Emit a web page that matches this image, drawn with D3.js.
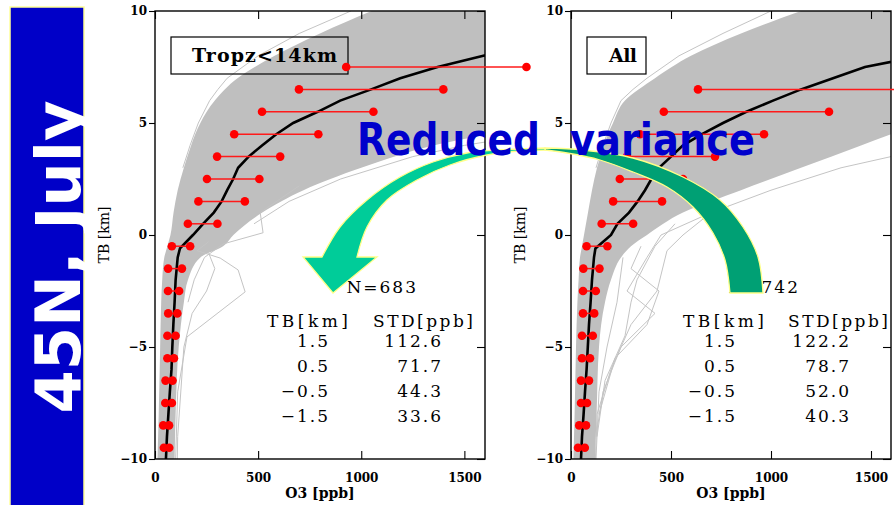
<!DOCTYPE html>
<html>
<head>
<meta charset="utf-8">
<script src="https://cdn.jsdelivr.net/npm/d3@7"></script>
<style>
  body { margin: 0; background: #fff; }
  svg { display: block; }
</style>
</head>
<body>
<svg id="chart" width="894" height="505"></svg>
<script>
// ---- Ozone profiles relative to the thermal tropopause (TB = height above/below it) ----

// Envelope of the individual sonde profiles (ppb) at these TB levels (km)
const bandKm  = [-10, -8, -5, -3, -2, -1, -0.5, 0, 1, 2, 3, 4, 4.5, 5, 6, 7, 8, 9, 10];
const tropLo  = [12, 18, 25, 30, 35, 45, 60, 75, 90, 110, 140, 175, 195, 220, 290, 400, 580, 800, 1050];
const tropHi  = [95, 100, 115, 140, 160, 220, 330, 380, 520, 720, 1000, 1350, 1600, 1750, 1800, 1800, 1800, 1800, 1800];
const allLo   = [12, 18, 25, 32, 38, 45, 55, 65, 85, 105, 130, 165, 185, 210, 270, 420, 600, 850, 1150];
const allHi   = [120, 128, 140, 170, 200, 250, 300, 380, 560, 850, 1150, 1450, 1600, 1750, 1800, 1800, 1800, 1800, 1800];

// Individual profiles lying outside the dense envelope ([TB km, O3 ppb])
const tropStray = [
  [[-0.3, 260], [-0.7, 204], [-1.03, 316], [-1.56, 403], [-2.54, 437], [-4.55, 155], [-7, 110], [-10, 100]],
  [[2.2, 700], [1.0, 510], [0.1, 524], [-0.4, 330], [-1, 240], [-2, 190], [-3, 160]],
  [[-0.8, 260], [-1.5, 290], [-2.5, 250], [-3.5, 180], [-5, 140], [-9, 110], [-10, 108]],
  [[10, 950], [9, 700], [8, 500], [7, 350], [6.5, 305], [6, 265], [5, 210], [4, 170], [3, 135]],
  [[0.5, 480], [1.5, 650], [2.5, 900], [3.5, 1250], [4, 1500], [4.3, 1700]]
];
const allStray = [
  [[1, 700], [0, 560], [-0.7, 480], [-2.5, 430], [-4, 300], [-6, 200], [-8, 130], [-10, 122]],
  [[0, 450], [-1, 380], [-2.5, 280], [-3.5, 420], [-5, 250], [-7, 160], [-9, 125]],
  [[-0.5, 350], [-1.5, 300], [-2.5, 440], [-4, 380], [-5.5, 220], [-8, 140]],
  [[-1, 260], [-3, 230], [-5, 180], [-7, 140], [-10, 125]],
  [[0.5, 520], [-0.5, 420], [-2, 330], [-3, 300], [-4.5, 270], [-6.5, 170], [-9, 130]],
  [[10, 1000], [9, 760], [8, 540], [7, 380], [6.5, 310], [6, 250], [5, 200], [4, 160], [3, 125]],
  [[0, 450], [1, 700], [2, 1000], [3, 1350], [3.5, 1600], [3.8, 1700]]
];

// Mean profile (ppb)
const meanKm   = [-10, -9, -8, -7, -6, -5, -4, -3, -2, -1, -0.6, 0, 0.5, 1, 1.5, 2, 2.5, 3, 3.5, 4, 4.5, 5, 5.5, 6, 6.5, 7, 7.5, 8, 8.5];
const tropMean = [53, 58, 65, 72, 80, 84, 89, 95, 100, 110, 121, 184, 233, 285, 323, 350, 379, 403, 454, 519, 588, 670, 789, 898, 1048, 1189, 1370, 1592, 1800];
const allMean  = [50, 55, 63, 70, 78, 84, 90, 98, 105, 115, 122, 200, 232, 290, 333, 370, 402, 440, 500, 560, 655, 760, 877, 1010, 1150, 1310, 1470, 1750, 1800];

// Table: standard deviation near the tropopause
const tbLevels = [1.5, 0.5, -0.5, -1.5];
const stdTrop  = [112.6, 71.7, 44.3, 33.6];
const stdAll   = [122.2, 78.7, 52.0, 40.3];
const nTrop = 683, nAll = 742;

// Layer means and standard deviations (mean ± 1σ bars)
const tropUpKm   = [7.5, 6.5, 5.5, 4.5, 3.5, 2.5];
const tropUpMean = [1364, 1048, 789, 588, 454, 379];
const tropUpStd  = [437, 350, 270, 204, 153, 127];
const tropTbMean = [323, 231, 126, 97];
const tropLowKm   = [-2.5, -3.5, -4.5, -5.5, -6.5, -7.5, -8.5, -9.5];
const tropLowMean = [90, 86, 80, 76, 68, 66, 54, 56];
const tropLowStd  = [27, 22, 20, 16, 17, 16, 14, 13];

const allUpKm   = [6.5, 5.5, 4.5, 3.5, 2.5];
const allUpMean = [1150, 877, 655, 500, 402];
const allUpStd  = [515, 413, 310, 220, 158];
const allTbMean = [333, 232, 130, 102];
const allLowKm   = [-2.5, -3.5, -4.5, -5.5, -6.5, -7.5, -8.5, -9.5];
const allLowMean = [92, 88, 82, 75, 70, 65, 58, 52];
const allLowStd  = [32, 28, 27, 20, 20, 15, 17, 17];

// Axis ticks
const xTicks = [0, 500, 1000, 1500];
const yTicks = [-10, -5, 0, 5, 10];

const svg = d3.select("#chart");
const fmt = d3.format("d");
const serif = "'DejaVu Serif', 'Liberation Serif', serif";

function bars(km, mean, std) { return km.map((k, i) => ({ km: k, mean: mean[i], std: std[i] })); }

const panels = [
  {
    id: "trop", x0: 155, x1: 485, title: "Tropz<14km", box: [171, 37, 177, 37], titleX: 192, titleLen: 145,
    lo: tropLo, hi: tropHi, stray: tropStray, mean: tropMean, n: nTrop, std: stdTrop,
    bars: [].concat(bars(tropUpKm, tropUpMean, tropUpStd), bars(tbLevels, tropTbMean, stdTrop), bars(tropLowKm, tropLowMean, tropLowStd)),
    nEnd: 418, tbStart: 267, tbRight: 330, stdStart: 373, stdRight: 443
  },
  {
    id: "all", x0: 571, x1: 891, title: "All", box: [587, 37, 59, 37], titleX: 609, titleLen: 28,
    lo: allLo, hi: allHi, stray: allStray, mean: allMean, n: nAll, std: stdAll,
    bars: [].concat(bars(allUpKm, allUpMean, allUpStd), bars(tbLevels, allTbMean, stdAll), bars(allLowKm, allLowMean, allLowStd)),
    nEnd: 800, tbStart: 683, tbRight: 737, stdStart: 788, stdRight: 851
  }
];

const yTop = 11, yBot = 459;
const y = d3.scaleLinear().domain([-10, 10]).range([yBot, yTop]);

panels.forEach(p => {
  const x = d3.scaleLinear().domain([0, 1600]).range([p.x0, p.x1]);
  const g = svg.append("g");

  g.append("clipPath").attr("id", "clip-" + p.id)
    .append("rect").attr("x", p.x0).attr("y", yTop).attr("width", p.x1 - p.x0).attr("height", yBot - yTop);
  const plot = g.append("g").attr("clip-path", `url(#clip-${p.id})`);

  // dense envelope of all profiles
  const area = d3.area().y((d, i) => y(bandKm[i])).x0((d, i) => x(p.lo[i])).x1((d, i) => x(p.hi[i]))
    .curve(d3.curveMonotoneY);
  plot.append("path").datum(bandKm).attr("d", area).attr("fill", "#bfbfbf");

  // outlying profiles
  const pl = d3.line().x(d => x(d[1])).y(d => y(d[0]));
  plot.selectAll("path.stray").data(p.stray).join("path").attr("class", "stray")
    .attr("d", pl).attr("fill", "none").attr("stroke", "#c4c4c4").attr("stroke-width", 1);

  // mean profile
  const ml = d3.line().x((d, i) => x(p.mean[i])).y((d) => y(d));
  plot.append("path").datum(meanKm).attr("d", ml).attr("fill", "none")
    .attr("stroke", "#000").attr("stroke-width", 2.6);

  // frame
  g.append("rect").attr("x", p.x0).attr("y", yTop).attr("width", p.x1 - p.x0).attr("height", yBot - yTop)
    .attr("fill", "none").attr("stroke", "#000").attr("stroke-width", 1.4);

  // axes
  const axL = g.append("g").attr("transform", `translate(${p.x0},0)`)
    .call(d3.axisLeft(y).tickValues(yTicks).tickFormat(fmt).tickSize(6).tickPadding(2));
  const axR = g.append("g").attr("transform", `translate(${p.x1},0)`)
    .call(d3.axisRight(y).tickValues(yTicks).tickFormat("").tickSize(-8));
  const axT = g.append("g").attr("transform", `translate(0,${yTop})`)
    .call(d3.axisTop(x).tickValues(xTicks).tickFormat("").tickSize(-8));
  const axB = g.append("g").attr("transform", `translate(0,${yBot})`)
    .call(d3.axisBottom(x).tickValues(xTicks).tickFormat(fmt).tickSize(-8).tickPadding(14));
  [axL, axR, axT, axB].forEach(a => {
    a.select(".domain").remove();
    a.selectAll("line").attr("stroke", "#000").attr("stroke-width", 1.1);
    a.selectAll("text").attr("font-family", serif).attr("font-weight", "bold")
      .attr("font-size", 12).attr("fill", "#000");
  });

  // axis titles
  g.append("text").attr("transform", `translate(${p.x0 - 46},${(yTop + yBot) / 2}) rotate(-90)`)
    .attr("text-anchor", "middle").attr("font-family", serif).attr("font-size", 14)
    .text("TB [km]");
  g.append("text").attr("x", (p.x0 + p.x1) / 2).attr("y", 498)
    .attr("text-anchor", "middle").attr("font-family", serif).attr("font-size", 14)
    .attr("font-weight", "bold").text("O3 [ppb]");

  // title box
  g.append("rect").attr("x", p.box[0]).attr("y", p.box[1]).attr("width", p.box[2]).attr("height", p.box[3])
    .attr("fill", "none").attr("stroke", "#000").attr("stroke-width", 1.2);
  g.append("text").attr("x", p.titleX).attr("y", 62).attr("font-family", serif)
    .attr("font-weight", "bold").attr("font-size", 19)
    .attr("textLength", p.titleLen).attr("lengthAdjust", "spacing").text(p.title);

  // mean ± std bars (not clipped)
  const bg = g.append("g");
  bg.selectAll("line").data(p.bars).join("line")
    .attr("x1", d => x(d.mean - d.std)).attr("x2", d => x(d.mean + d.std))
    .attr("y1", d => y(d.km)).attr("y2", d => y(d.km))
    .attr("stroke", "#ff1a1a").attr("stroke-width", 1.5);
  const ends = p.bars.flatMap(d => [{ km: d.km, v: d.mean - d.std }, { km: d.km, v: d.mean + d.std }]);
  bg.selectAll("circle").data(ends).join("circle")
    .attr("cx", d => x(d.v)).attr("cy", d => y(d.km)).attr("r", 4.3).attr("fill", "#ff0000");

  // statistics table
  const t = g.append("g").attr("font-family", serif).attr("font-size", 17).attr("fill", "#000")
    .attr("letter-spacing", 2);
  t.append("text").attr("x", p.nEnd).attr("y", 293).attr("text-anchor", "end").text("N=" + p.n);
  t.append("text").attr("x", p.tbStart).attr("y", 327).attr("textLength", 83).text("TB[km]");
  t.append("text").attr("x", p.stdStart).attr("y", 327).attr("textLength", 102).text("STD[ppb]");
  tbLevels.forEach((lv, i) => {
    t.append("text").attr("x", p.tbRight).attr("y", 347 + i * 25).attr("text-anchor", "end")
      .text(d3.format(".1f")(lv));
    t.append("text").attr("x", p.stdRight).attr("y", 347 + i * 25).attr("text-anchor", "end")
      .text(d3.format(".1f")(p.std[i]));
  });
});

// ---- side banner ----
svg.append("rect").attr("x", 10).attr("y", 7).attr("width", 74).attr("height", 510)
  .attr("fill", "#0000c8").attr("stroke", "#ffff99").attr("stroke-width", 1.5);
svg.append("text").attr("transform", "translate(80,257) rotate(-90)")
  .attr("text-anchor", "middle").attr("font-family", "'DejaVu Sans', sans-serif").attr("font-weight", "bold")
  .attr("font-size", 62).attr("fill", "#fff").attr("textLength", 313).attr("lengthAdjust", "spacingAndGlyphs")
  .text("45N, July");

// ---- curved arrow from the "All" panel to the "Tropz<14km" panel ----
const smooth = d3.line().curve(d3.curveCatmullRom);
const darkOuter = [[545, 148], [583, 150], [633, 158], [683, 177], [720, 200], [743, 227], [758, 257], [763, 293]];
const darkInner = [[730, 293], [725, 260], [713, 233], [693, 207], [667, 187], [633, 172], [600, 160], [567, 153], [545, 150]];
const lightOuter = [[545, 148], [500, 150], [467, 153], [433, 162], [400, 177], [367, 200], [340, 227], [322, 257]];
const lightInner = [[357, 257], [367, 227], [387, 200], [417, 180], [450, 165], [487, 155], [520, 151], [545, 150]];
const head = [[322, 257], [303, 257], [333, 293], [377, 257], [357, 257]];

svg.append("path")
  .attr("d", smooth(darkOuter) + "L" + smooth(darkInner).slice(1) + "Z")
  .attr("fill", "#00a074").attr("stroke", "#ffff88").attr("stroke-width", 1.3);
svg.append("path")
  .attr("d", smooth(lightOuter) + head.slice(1).map(p => "L" + p).join("") + "L" + smooth(lightInner).slice(1) + "Z")
  .attr("fill", "#00cc99").attr("stroke", "#ffff88").attr("stroke-width", 1.3);

// headline, the two words set apart so the axis label between them stays visible
const head1 = svg.append("text").attr("y", 155)
  .attr("font-family", "'DejaVu Sans', sans-serif").attr("font-weight", "bold").attr("font-size", 45)
  .attr("fill", "#0000cc");
head1.append("tspan").attr("x", 357).attr("textLength", 183).attr("lengthAdjust", "spacingAndGlyphs").text("Reduced");
head1.append("tspan").attr("x", 570).attr("textLength", 185).attr("lengthAdjust", "spacingAndGlyphs").text(" variance".trim());
</script>
</body>
</html>
